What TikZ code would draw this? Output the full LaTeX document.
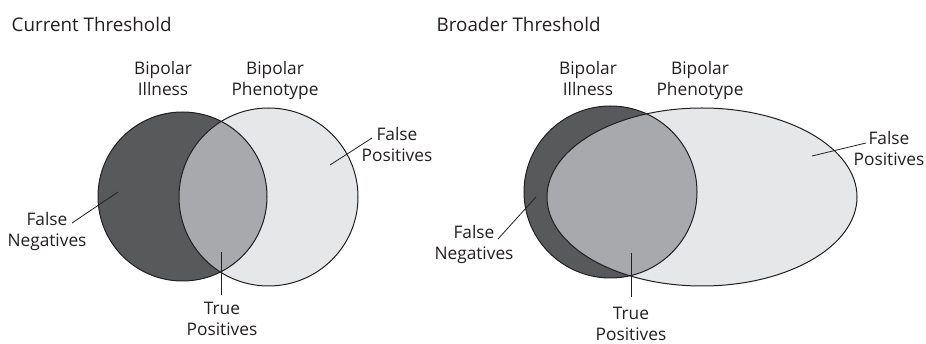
\documentclass[tikz,border=0pt]{standalone}
\usepackage{fontspec}
\setmainfont{Open Sans}
\usetikzlibrary{positioning}
\definecolor{illdark}{HTML}{58595B}
\definecolor{overlapgray}{HTML}{A7A9AC}
\definecolor{phenolight}{HTML}{E6E7E8}
\definecolor{inkgray}{HTML}{231F20}
\tikzset{
    heading/.style = {
        inner sep=0pt,
        text=inkgray,
        font=\fontsize{18.8}{22}\selectfont
    },
    setname/.style = {
        anchor=north,
        inner sep=0pt,
        align=center,
        text=inkgray,
        font=\fontsize{17.3}{21}\selectfont
    },
    outline/.style = {
        draw=inkgray,
        line width=1pt
    },
    leader/.style = {
        draw=inkgray,
        line width=0.8pt
    },
}

\begin{document}
\begin{tikzpicture}[x=1pt,y=-1pt]
    \useasboundingbox (0,0) rectangle (926,344);

    % current threshold
    \fill[phenolight] (268.5,197) ellipse [x radius=89.5, y radius=89];
    \fill[illdark] (182.5,196.5) circle [radius=84.5];
    \begin{scope}
        \clip (182.5,196.5) circle [radius=84.5];
        \fill[overlapgray] (268.5,197) ellipse [x radius=89.5, y radius=89];
    \end{scope}
    \path[outline] (182.5,196.5) circle [radius=84.5];
    \path[outline] (268.5,197) ellipse [x radius=89.5, y radius=89];

    \node[heading, anchor=base west] (curtitle) at (11.5,32) {Current Threshold};
    \node[setname] (curill) at (163,61.5) {Bipolar\\Illness};
    \node[setname] (curpheno) at (275,61.5) {Bipolar\\Phenotype};
    \node[setname] (curfn) at (47,212.5) {False\\Negatives};
    \node[setname] (curfp) at (397,127.5) {False\\Positives};
    \node[setname] (curtp) at (222,301.5) {True\\Positives};

    \coordinate (curfnA) at (72,223);
    \coordinate (curfnB) at (118,192);
    \coordinate (curfpA) at (372,138);
    \coordinate (curfpB) at (330,165);
    \coordinate (curtpA) at (221.5,295);
    \coordinate (curtpB) at (221.5,252);
    \path[leader] (curfnA) -- (curfnB);
    \path[leader] (curfpA) -- (curfpB);
    \path[leader] (curtpA) -- (curtpB);

    % broader threshold
    \fill[phenolight] (702,197) ellipse [x radius=155, y radius=89];
    \fill[illdark] (610.5,192) ellipse [x radius=86.5, y radius=86];
    \begin{scope}
        \clip (610.5,192) ellipse [x radius=86.5, y radius=86];
        \fill[overlapgray] (702,197) ellipse [x radius=155, y radius=89];
    \end{scope}
    \path[outline] (610.5,192) ellipse [x radius=86.5, y radius=86];
    \path[outline] (702,197) ellipse [x radius=155, y radius=89];

    \node[heading, anchor=base west] (brdtitle) at (436.5,32) {Broader Threshold};
    \node[setname] (brdill) at (588,61) {Bipolar\\Illness};
    \node[setname] (brdpheno) at (700,61) {Bipolar\\Phenotype};
    \node[setname] (brdfn) at (474,225.5) {False\\Negatives};
    \node[setname] (brdfp) at (889,131.5) {False\\Positives};
    \node[setname] (brdtp) at (631,306.5) {True\\Positives};

    \coordinate (brdfnA) at (498,239);
    \coordinate (brdfnB) at (536,197);
    \coordinate (brdfpA) at (866,143);
    \coordinate (brdfpB) at (812,156);
    \coordinate (brdtpA) at (631,297);
    \coordinate (brdtpB) at (631,253);
    \path[leader] (brdfnA) -- (brdfnB);
    \path[leader] (brdfpA) -- (brdfpB);
    \path[leader] (brdtpA) -- (brdtpB);
\end{tikzpicture}
\end{document}
